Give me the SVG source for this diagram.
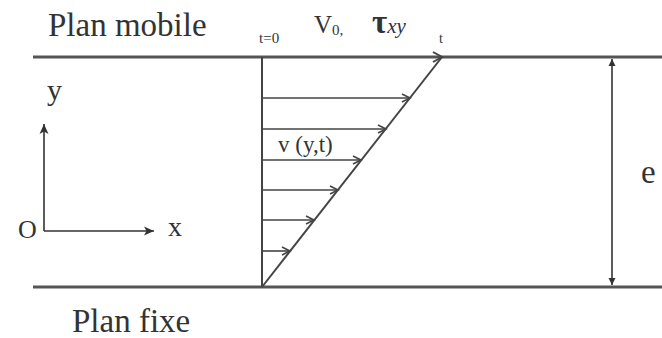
<svg xmlns="http://www.w3.org/2000/svg" width="662" height="338" viewBox="0 0 662 338">
<style>
text{font-family:"Liberation Serif","Times New Roman",serif;fill:#333}
.plate{stroke:#555;stroke-width:3;fill:none}
.ln{stroke:#444;stroke-width:2;fill:none}
.vel{stroke:#444;stroke-width:1.6;fill:none;marker-end:url(#chev)}
.ax{stroke:#333;stroke-width:1.6;fill:none}
</style>
<defs>
<marker id="chev" markerUnits="userSpaceOnUse" markerWidth="12" markerHeight="12" refX="9" refY="5" orient="auto">
<path d="M1,1 L9,5 L1,9" fill="none" stroke="#444" stroke-width="1.6"/>
</marker>
<marker id="tri" markerUnits="userSpaceOnUse" markerWidth="12" markerHeight="12" refX="10" refY="5" orient="auto">
<path d="M0,0.5 L10,5 L0,9.5 L2.5,5 Z" fill="#333"/>
</marker>
<marker id="dim" markerUnits="userSpaceOnUse" markerWidth="10" markerHeight="10" refX="7" refY="4" orient="auto-start-reverse">
<path d="M0,0.5 L7,4 L0,7.5 Z" fill="#333"/>
</marker>
</defs>
<g id="plan-mobile">
<line class="plate" x1="33" y1="57" x2="662" y2="57"/>
<text x="48" y="36" font-size="33">Plan mobile</text>
</g>
<g id="plan-fixe">
<line class="plate" x1="33" y1="287" x2="662" y2="287"/>
<text x="72" y="332" font-size="33">Plan fixe</text>
</g>
<g id="axes">
<line class="ax" x1="44" y1="231" x2="44" y2="124" marker-end="url(#tri)"/>
<line class="ax" x1="44" y1="231" x2="154" y2="231" marker-end="url(#tri)"/>
<text x="47" y="100" font-size="30">y</text>
<text x="18" y="238" font-size="26">O</text>
<text x="168" y="236" font-size="28">x</text>
</g>
<g id="profile">
<line class="ln" x1="262" y1="57" x2="262" y2="287"/>
<line class="ln" x1="262" y1="287" x2="442" y2="57" stroke-width="1.8"/>
<text x="259" y="43" font-size="15">t=0</text>
<text x="439" y="43" font-size="14">t</text>
<text x="314" y="33" font-size="25">V<tspan font-size="15" dy="2">0</tspan><tspan font-size="15">,</tspan></text>
<text x="372" y="33" font-size="33" font-family="Liberation Sans, Arial, sans-serif" font-weight="bold" fill="#1e1a24">τ<tspan font-size="21" font-weight="normal" font-style="italic" fill="#2a3350">xy</tspan></text>
<text x="278" y="152" font-size="23">v (y,t)</text>
</g>
<g id="connectors">
<path d="M433,52 L442,57 L433,62" fill="none" stroke="#444" stroke-width="2"/>
<line class="vel" x1="262" y1="98" x2="410" y2="98"/>
<line class="vel" x1="262" y1="129" x2="386" y2="129"/>
<line class="vel" x1="262" y1="160" x2="361" y2="160"/>
<line class="vel" x1="262" y1="190" x2="338" y2="190"/>
<line class="vel" x1="262" y1="220" x2="314" y2="220"/>
<line class="vel" x1="262" y1="251" x2="290" y2="251"/>
</g>
<g id="thickness">
<line x1="612" y1="59" x2="612" y2="285" stroke="#333" stroke-width="1.6" marker-start="url(#dim)" marker-end="url(#dim)"/>
<text x="641" y="183" font-size="33">e</text>
</g>
</svg>
